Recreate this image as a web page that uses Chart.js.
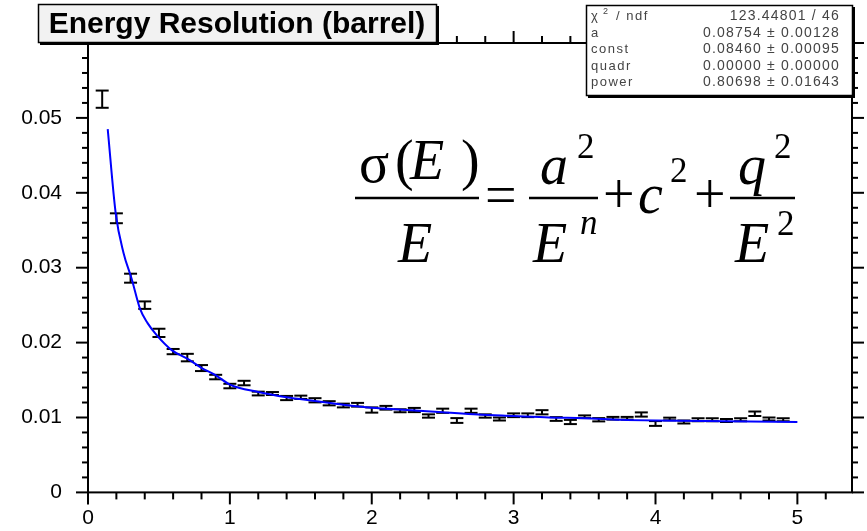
<!DOCTYPE html>
<html><head><meta charset="utf-8">
<script src="https://cdn.jsdelivr.net/npm/chart.js@4"></script>
<style>html,body{margin:0;padding:0;background:#fff;}#wrap{width:867px;height:531px;position:relative;}</style>
</head><body><div id="wrap"><canvas id="c" width="867" height="531"></canvas></div>
<script>
// ---- data ----
const energies = [0.1,0.2,0.3,0.4,0.5,0.6,0.7,0.8,0.9,1.0,1.1,1.2,1.3,1.4,1.5,1.6,1.7,1.8,1.9,2.0,2.1,2.2,2.3,2.4,2.5,2.6,2.7,2.8,2.9,3.0,3.1,3.2,3.3,3.4,3.5,3.6,3.7,3.8,3.9,4.0,4.1,4.2,4.3,4.4,4.5,4.6,4.7,4.8,4.9];
const resolution = [0.0525,0.0366,0.0286,0.0250,0.0213,0.0188,0.0180,0.0166,0.0154,0.0142,0.0146,0.0132,0.0132,0.0126,0.0127,0.0123,0.0119,0.0116,0.0117,0.0110,0.0113,0.0109,0.0110,0.0102,0.0109,0.0096,0.0109,0.0102,0.0098,0.0103,0.0103,0.0107,0.0098,0.0094,0.0101,0.0097,0.0099,0.0099,0.0104,0.0092,0.0098,0.0094,0.0097,0.0097,0.0096,0.0097,0.0105,0.0098,0.0097];
const resolutionErr = [0.00115,0.00066,0.00060,0.00050,0.00055,0.00035,0.00050,0.00040,0.00030,0.00030,0.00030,0.00025,0.00020,0.00028,0.00022,0.00028,0.00028,0.00025,0.00025,0.00035,0.00025,0.00020,0.00028,0.00022,0.00028,0.00032,0.00028,0.00022,0.00020,0.00025,0.00025,0.00028,0.00025,0.00028,0.00018,0.00022,0.00018,0.00018,0.00028,0.00032,0.00018,0.00020,0.00020,0.00020,0.00020,0.00020,0.00030,0.00020,0.00020];
const fitE   = [0.139,0.195,0.25,0.308,0.367,0.42,0.484,0.59,0.696,0.802,0.896,1.0,1.2,1.4,1.6,1.8,2.0,2.25,2.5,2.75,3.0,3.25,3.5,3.75,4.0,4.5,5.0];
const fitRes = [0.0485,0.0373,0.0320,0.0285,0.0245,0.0226,0.0210,0.0190,0.0179,0.0166,0.0157,0.0144,0.0134,0.0127,0.0122,0.0117,0.0113,0.0110,0.0107,0.0104,0.0102,0.0100,0.0099,0.0097,0.0096,0.0095,0.0094];
const xTickLabels = ['0','1','2','3','4','5'];
const yTickLabels = ['0','0.01','0.02','0.03','0.04','0.05'];
const titleText = 'Energy Resolution (barrel)';
const statsLabels = ['\u03C7','a','const','quadr','power'];
const statsValues = ['123.44801 / 46','0.08754 \u00B1 0.00128','0.08460 \u00B1 0.00095','0.00000 \u00B1 0.00000','0.80698 \u00B1 0.01643'];

const SANS = '"Liberation Sans", Arial, sans-serif';
const SERIF = '"Liberation Serif", "Times New Roman", serif';

function line(ctx,x1,y1,x2,y2){ctx.beginPath();ctx.moveTo(x1,y1);ctx.lineTo(x2,y2);ctx.stroke();}
function txt(ctx,s,x,y,size,italic,fam,align){
  ctx.font=(italic?'italic ':'')+size+'px '+(fam||SERIF);
  ctx.textAlign=align||'left';ctx.textBaseline='alphabetic';ctx.fillText(s,x,y);
}

const rootStyle = {
  id:'rootStyle',
  beforeDatasetsDraw(chart){
    const ctx=chart.ctx, ys=chart.scales.y, meta=chart.getDatasetMeta(0);
    ctx.save();ctx.strokeStyle='#000';ctx.lineWidth=2;
    meta.data.forEach((pt,i)=>{
      const x=pt.x;
      const yt=ys.getPixelForValue(resolution[i]+resolutionErr[i]);
      const yb=ys.getPixelForValue(resolution[i]-resolutionErr[i]);
      line(ctx,x,yt,x,yb);
      line(ctx,x-6.5,yt,x+6.5,yt);
      line(ctx,x-6.5,yb,x+6.5,yb);
    });
    ctx.restore();
  },
  afterDraw(chart){
    const ctx=chart.ctx, a=chart.chartArea, xs=chart.scales.x, ys=chart.scales.y;
    ctx.save();
    ctx.strokeStyle='#000';ctx.fillStyle='#000';
    ctx.lineWidth=2;
    ctx.strokeRect(a.left,a.top,a.right-a.left,a.bottom-a.top);
    for(let k=0;k<=30;k++){
      const p=ys.getPixelForValue(k*0.002), L=(k%5===0)?12:6;
      line(ctx,a.left-L,p,a.left,p);
      line(ctx,a.right,p,a.right+L,p);
    }
    for(let k=0;k<=26;k++){
      const p=xs.getPixelForValue(k*0.2), L=(k%5===0)?12:7;
      line(ctx,p,a.bottom,p,a.bottom+L);
      line(ctx,p,a.top-L,p,a.top);
    }
    // title box
    ctx.fillStyle='#000';ctx.fillRect(40,6,399,39);
    ctx.fillStyle='#f2f2f2';ctx.fillRect(38,4,399,39);
    ctx.lineWidth=1.5;ctx.strokeRect(38.5,4.5,398,38);
    ctx.fillStyle='#000';
    ctx.font='bold 30px '+SANS;ctx.textAlign='center';ctx.textBaseline='middle';
    ctx.fillText(titleText,237,25);
    // stats box
    ctx.fillStyle='#000';ctx.fillRect(588,7,267,91);
    ctx.fillStyle='#fff';ctx.fillRect(586,5,267,91);
    ctx.lineWidth=1.5;ctx.strokeRect(586.5,5.5,266,90);
    ctx.fillStyle='#444';
    const rows=[20,36.5,53,69.5,86];
    ctx.letterSpacing='1.5px';
    rows.forEach((y,i)=>{
      if(i===0){
        txt(ctx,'\u03C7',591,y,13,false,SANS);
        txt(ctx,'2',603,y-6,9,false,SANS);
        txt(ctx,' / ndf',611,y,13,false,SANS);
      } else txt(ctx,statsLabels[i],591,y,13,false,SANS);
    });
    ctx.letterSpacing='1.2px';
    rows.forEach((y,i)=>{ txt(ctx,statsValues[i],840,y,14,false,SANS,'right'); });
    ctx.letterSpacing='0px';
    // formula
    ctx.fillStyle='#000';
    txt(ctx,'\u03C3',359,182,56,false);
    txt(ctx,'(',395,179,56,false);
    txt(ctx,'E',410,179,56,true);
    txt(ctx,')',461,179,56,false);
    ctx.lineWidth=2.5;
    line(ctx,355,198,479,198);
    txt(ctx,'E',398,262,56,true);
    txt(ctx,'=',485,214,56,false);
    line(ctx,529,198,598,198);
    txt(ctx,'a',540,184,56,true);
    txt(ctx,'2',577,158,35,false);
    txt(ctx,'E',533,262,56,true);
    txt(ctx,'n',580,234,35,true);
    txt(ctx,'+',603,213,56,false);
    txt(ctx,'c',638,213,56,true);
    txt(ctx,'2',670,182,35,false);
    txt(ctx,'+',694,213,56,false);
    line(ctx,730,198,795,198);
    txt(ctx,'q',738,184,56,true);
    txt(ctx,'2',774,158,35,false);
    txt(ctx,'E',735,262,56,true);
    txt(ctx,'2',777,235,35,false);
    ctx.restore();
  }
};

new Chart(document.getElementById('c').getContext('2d'),{
  data:{datasets:[
    {type:'scatter',label:'data',data:energies.map((x,i)=>({x:x,y:resolution[i]})),pointRadius:0,showLine:false,borderColor:'#000',backgroundColor:'#000'},
    {type:'line',label:'fit',data:fitE.map((x,i)=>({x:x,y:fitRes[i]})),borderColor:'#0000ff',borderWidth:2,pointRadius:0,cubicInterpolationMode:'monotone',fill:false}
  ]},
  options:{
    responsive:false,animation:false,
    layout:{padding:{left:0,top:43,right:15,bottom:0}},
    plugins:{legend:{display:false},tooltip:{enabled:false},title:{display:false}},
    scales:{
      x:{type:'linear',min:0,max:5.385,
        ticks:{stepSize:1,includeBounds:false,autoSkip:false,maxRotation:0,padding:13,color:'#000',font:{family:'Liberation Sans',size:21},
          callback:(v)=>{const i=Math.round(v);return (Math.abs(v-i)<1e-6&&i<xTickLabels.length)?xTickLabels[i]:'';}},
        grid:{display:false,drawTicks:false},border:{display:false},
        afterFit:(s)=>{s.height=36;}},
      y:{type:'linear',min:0,max:0.06,
        ticks:{stepSize:0.01,includeBounds:false,autoSkip:false,padding:26,color:'#000',font:{family:'Liberation Sans',size:21},
          callback:(v,i)=>(i<yTickLabels.length?yTickLabels[i]:'')},
        grid:{display:false,drawTicks:false},border:{display:false},
        afterFit:(s)=>{s.width=88;}}
    }
  },
  plugins:[rootStyle]
});
</script></body></html>
